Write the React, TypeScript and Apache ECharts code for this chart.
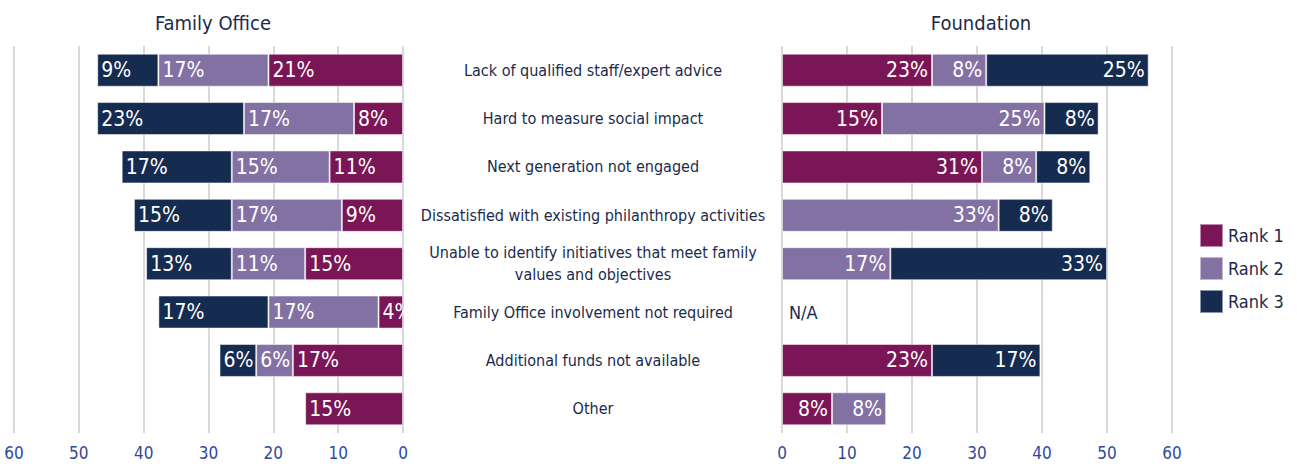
import React, { useEffect, useRef } from "react";
import * as echarts from "echarts";

const categories = [
  "Lack of qualified staff/expert advice",
  "Hard to measure social impact",
  "Next generation not engaged",
  "Dissatisfied with existing philanthropy activities",
  "Unable to identify initiatives that meet family\nvalues and objectives",
  "Family Office involvement not required",
  "Additional funds not available",
  "Other",
];

const rankNames = ["Rank 1", "Rank 2", "Rank 3"];
const rankColors = ["#7a1656", "#8471a4", "#162b50"];

// Family Office (percent)
const familyRank1 = [20.75, 7.55, 11.32, 9.43, 15.09, 3.77, 16.98, 15.09];
const familyRank2 = [16.98, 16.98, 15.09, 16.98, 11.32, 16.98, 5.66, null];
const familyRank3 = [9.43, 22.64, 16.98, 15.09, 13.21, 16.98, 5.66, null];

// Foundation (percent)
const foundRank1 = [23.08, 15.38, 30.77, null, null, null, 23.08, 7.69];
const foundRank2 = [8.33, 25.0, 8.33, 33.33, 16.67, null, null, 8.33];
const foundRank3 = [25.0, 8.33, 8.33, 8.33, 33.33, null, 16.67, null];
const foundNA = [null, null, null, null, null, 0, null, null];

const FONT = "'Liberation Sans Narrow', 'DejaVu Sans Condensed', 'Roboto', sans-serif";

export default function App() {
  const ref = useRef<HTMLDivElement>(null);

  useEffect(() => {
    const chart = echarts.init(ref.current!, null, { renderer: "svg" });
    const fmt = (p: any) =>
      p.value === null || p.value === undefined || p.value === 0 ? "" : Math.round(p.value) + "%";
    const barLabel = (pos: string) => ({
      show: true,
      position: pos,
      distance: 4,
      color: "#ffffff",
      fontFamily: FONT,
      fontSize: 21,
      formatter: fmt,
    });
    const family = [familyRank1, familyRank2, familyRank3];
    const found = [foundRank1, foundRank2, foundRank3];
    const series: any[] = [];
    family.forEach((d, i) => {
      series.push({
        name: rankNames[i],
        type: "bar",
        stack: "L",
        xAxisIndex: 0,
        yAxisIndex: 0,
        barWidth: 33,
        data: d,
        itemStyle: { color: rankColors[i], borderColor: "rgba(255,255,255,0.5)", borderWidth: 1 },
        label: barLabel("insideLeft"),
      });
    });
    found.forEach((d, i) => {
      series.push({
        name: rankNames[i],
        type: "bar",
        stack: "R",
        xAxisIndex: 1,
        yAxisIndex: 1,
        barWidth: 33,
        data: d,
        itemStyle: { color: rankColors[i], borderColor: "rgba(255,255,255,0.5)", borderWidth: 1 },
        label: barLabel("insideRight"),
      });
    });
    series.push({
      name: "NA",
      type: "bar",
      xAxisIndex: 1,
      yAxisIndex: 1,
      barWidth: 33,
      barGap: "-100%",
      data: foundNA,
      itemStyle: { color: "transparent" },
      label: {
        show: true,
        position: "right",
        distance: 7,
        color: "#1a2b4c",
        fontFamily: FONT,
        fontSize: 18,
        formatter: (p: any) => (p.value === 0 ? "N/A" : ""),
      },
    });

    const xAxisCommon = {
      type: "value",
      min: 0,
      max: 60,
      interval: 10,
      axisLine: { show: false },
      axisTick: { show: false },
      splitLine: { show: true, lineStyle: { color: "#d9d9d9", width: 2 } },
      axisLabel: { color: "#2e4a9a", fontFamily: FONT, fontSize: 17, margin: 11 },
    };

    chart.setOption({
      animation: false,
      backgroundColor: "#ffffff",
      title: [
        {
          text: "Family Office",
          left: 208,
          top: 8,
          textAlign: "center",
          textStyle: { color: "#1a2b4c", fontFamily: FONT, fontSize: 20, fontWeight: "normal" },
        },
        {
          text: "Foundation",
          left: 976,
          top: 8,
          textAlign: "center",
          textStyle: { color: "#1a2b4c", fontFamily: FONT, fontSize: 20, fontWeight: "normal" },
        },
      ],
      legend: {
        data: rankNames,
        orient: "vertical",
        left: 1199,
        top: 223,
        padding: 0,
        itemWidth: 23,
        itemHeight: 23,
        itemGap: 8,
        icon: "rect",
        textStyle: { color: "#1a2b4c", fontFamily: FONT, fontSize: 18 },
      },
      grid: [
        { left: 14, top: 46, width: 389, height: 387 },
        { left: 782, top: 46, width: 390, height: 387 },
      ],
      xAxis: [
        { ...xAxisCommon, gridIndex: 0, inverse: true },
        { ...xAxisCommon, gridIndex: 1 },
      ],
      yAxis: [
        {
          type: "category",
          gridIndex: 0,
          data: categories,
          inverse: true,
          axisLine: { show: false },
          axisTick: { show: false },
          axisLabel: { show: false },
        },
        {
          type: "category",
          gridIndex: 1,
          data: categories,
          inverse: true,
          axisLine: { show: false },
          axisTick: { show: false },
          axisLabel: {
            show: true,
            align: "center",
            margin: 189,
            color: "#1a2b4c",
            fontFamily: FONT,
            fontSize: 16,
            lineHeight: 22,
          },
        },
      ],
      series,
    });
    return () => chart.dispose();
  }, []);

  return (
    <div
      ref={ref}
      style={{ position: "absolute", left: 0, top: 0, width: 1297, height: 464 }}
    />
  );
}
